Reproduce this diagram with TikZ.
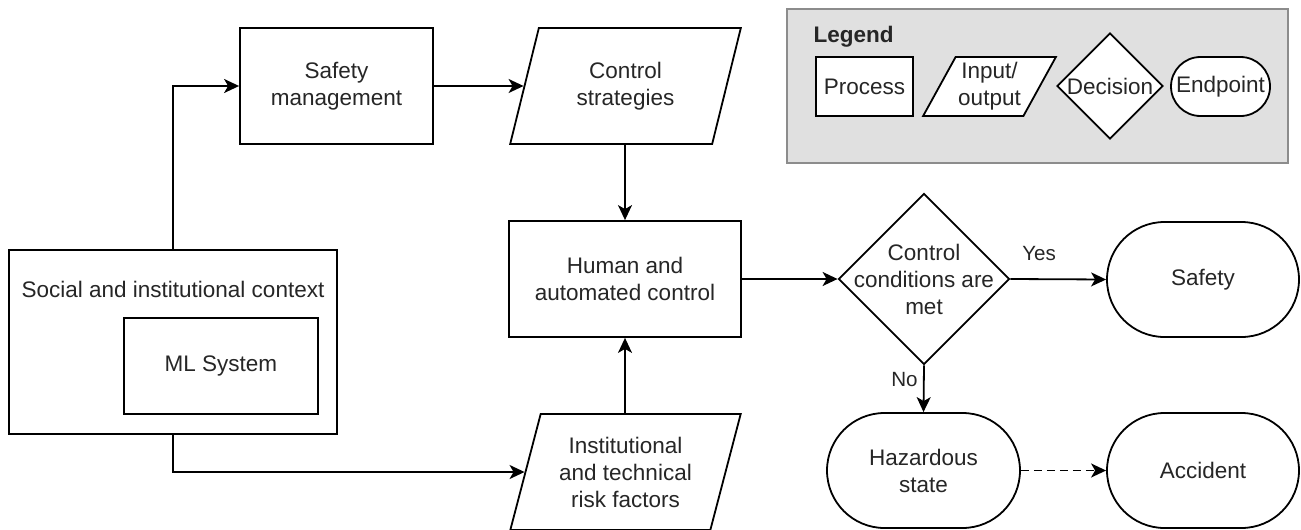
\documentclass[tikz,border=0pt]{standalone}
\usepackage{fontspec}
\setmainfont{Liberation Sans}
\usetikzlibrary{shapes.geometric,shapes.misc,arrows.meta}

\tikzset{
  every node/.style={font=\fontsize{22.5}{27}\selectfont, text=black!85},
  proc/.style={draw, rectangle, fill=white, line width=1.8pt, inner sep=0pt, align=center},
  inout/.style={draw, trapezium, trapezium left angle=71.4, trapezium right angle=108.6,
    trapezium stretches=true, fill=white, line width=1.8pt, inner sep=0pt, align=center},
  decide/.style={draw, diamond, fill=white, line width=1.8pt, inner sep=0pt},
  endpt/.style={draw, rounded rectangle, fill=white, line width=1.8pt, inner sep=0pt, align=center},
  arr/.style={line width=1.8pt, -{Stealth[length=15pt,width=14pt,inset=4pt]}},
  lab/.style={font=\fontsize{20.6}{24}\selectfont}
}

\begin{document}
\begin{tikzpicture}[x=1pt,y=-1pt]
  \useasboundingbox (0,0) rectangle (1301,530);
  %\draw[very thin,gray,step=50] (0,0) grid (1301,530);

  % legend
  \node[draw=black!45, fill=black!12, line width=1.5pt, minimum width=501pt, minimum height=154pt] (legend) at (1037.5,86) {};
  \node[font=\fontsize{22.5}{27}\selectfont\bfseries] (legendtitle) at (853.5,37) {Legend};
  \node[proc, minimum width=97pt, minimum height=59pt] (lproc) at (864.5,86.5) {Process};
  \node[inout, trapezium left angle=58, trapezium right angle=122, minimum width=133pt, minimum height=59pt] (lio) at (989.5,86.5) {Input/\\output};
  \node[decide, minimum width=106pt, minimum height=106pt, label=center:Decision] (ldec) at (1110,86) {};
  \node[endpt, minimum width=99pt, minimum height=59pt] (lend) at (1220.5,86.5) {Endpoint};

  % flow
  \node[proc, minimum width=328pt, minimum height=184pt] (ctx) at (173,342) {};
  \node (ctxtext) at (173,289) {Social and institutional context};
  \node[proc, minimum width=194pt, minimum height=96pt] (ml) at (221,366) {ML System};
  \node[proc, minimum width=193pt, minimum height=116pt] (smgmt) at (336.5,86) {Safety\\management};
  \node[inout, minimum width=231pt, minimum height=116pt] (strat) at (625.5,86) {Control\\strategies};
  \node[proc, minimum width=232pt, minimum height=116pt] (human) at (625,279) {Human and\\automated control};
  \node[inout, minimum width=231pt, minimum height=116pt] (risk) at (625.5,472) {Institutional\\and technical\\risk factors};
  \node[decide, minimum width=171pt, minimum height=171pt,
    label={[align=center]center:Control\\conditions are\\met}] (dec) at (924,279) {};
  \node[endpt, minimum width=192pt, minimum height=115pt] (safety) at (1203,279.5) {Safety};
  \node[endpt, minimum width=193pt, minimum height=115pt] (hazard) at (923.5,470.5) {Hazardous\\state};
  \node[endpt, minimum width=192pt, minimum height=115pt] (accident) at (1203,470.5) {Accident};

  \draw[arr] (ctx.north) |- (smgmt.west);
  \draw[arr] (smgmt.east) -- (strat.west);
  \draw[arr] (strat.south -| human.north) -- (human.north);
  \draw[arr] (risk.north -| human.south) -- (human.south);
  \draw[arr] (ctx.south) |- (risk.west);
  \draw[arr] (human.east) -- (dec.west);
  \draw[arr] (dec.east) -- node[lab, pos=0.3, above=14pt] (yes) {Yes} (safety.west);
  \draw[arr] (dec.south) -- node[lab, pos=0.3, left=2pt] (no) {No} (hazard.north);
  \draw[arr, dash pattern=on 8pt off 5pt] (hazard.east) -- (accident.west);
\end{tikzpicture}
\end{document}
